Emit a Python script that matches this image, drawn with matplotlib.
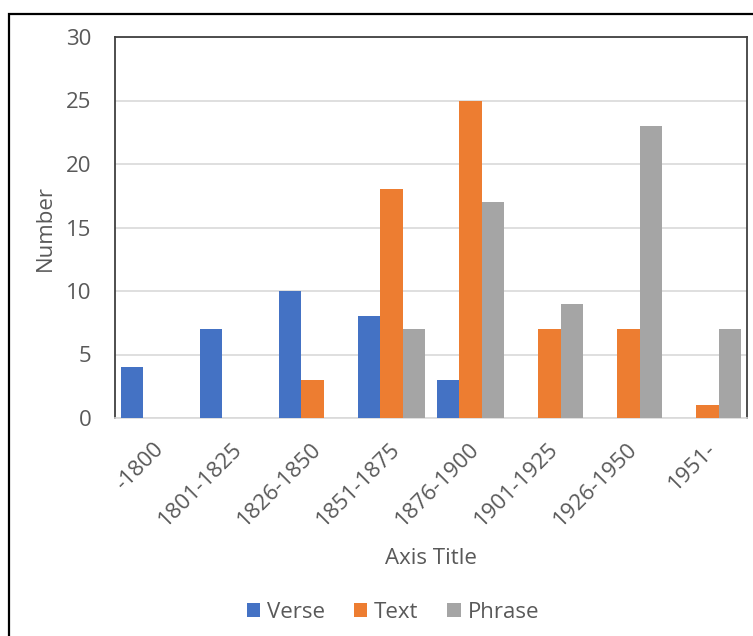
import matplotlib.pyplot as plt
import matplotlib.transforms as mtransforms
import numpy as np
from matplotlib.patches import Rectangle

plt.rcParams["font.family"] = ["Open Sans", "DejaVu Sans"]

periods = ["-1800", "1801-1825", "1826-1850", "1851-1875",
           "1876-1900", "1901-1925", "1926-1950", "1951-"]
verse = [4, 7, 10, 8, 3, 0, 0, 0]
text = [0, 0, 3, 18, 25, 7, 7, 1]
phrase = [0, 0, 0, 7, 17, 9, 23, 7]

series = [("Verse", verse, "#4472C4"),
          ("Text", text, "#ED7D31"),
          ("Phrase", phrase, "#A5A5A5")]

grey_text = "#595959"
fs = 16

fig = plt.figure(figsize=(7.53, 6.36), dpi=100)
# outer chart frame (right/bottom edges fall off the canvas)
fig.patches.append(Rectangle((9 / 753, -0.1), 1.1, 1 - 14 / 636 + 0.1,
                             transform=fig.transFigure, fill=False,
                             edgecolor="black", linewidth=1.6))

ax = fig.add_axes([115 / 753, 1 - 418 / 636, 632 / 753, 381 / 636])

x = np.arange(len(periods))
width = 1 / 3.5
for i, (name, vals, color) in enumerate(series):
    ax.bar(x + (i - 1) * width, vals, width, color=color, label=name, zorder=3)

ax.set_xlim(-0.5, len(periods) - 0.5)
ax.set_ylim(0, 30)
ax.set_yticks(range(0, 31, 5))
ax.yaxis.grid(True, color="#D9D9D9", linewidth=1.2, zorder=0)
ax.set_axisbelow(True)

for side in ["left", "top", "right"]:
    ax.spines[side].set_color("#404040")
    ax.spines[side].set_linewidth(1.3)
ax.spines["bottom"].set_color("#D9D9D9")
ax.spines["bottom"].set_linewidth(1.2)

ax.set_xticks(x)
ax.set_xticklabels(periods, rotation=45, ha="right", rotation_mode="anchor")
ax.tick_params(axis="both", length=0, labelsize=fs, labelcolor=grey_text)
ax.tick_params(axis="y", pad=17)
ax.tick_params(axis="x", pad=15)
shift = mtransforms.ScaledTranslation(-0.02, 0, fig.dpi_scale_trans)
for lbl in ax.get_xticklabels():
    lbl.set_transform(lbl.get_transform() + shift)

fig.text(45 / 753, 1 - 228 / 636, "Number", rotation=90, ha="center",
         va="center", fontsize=fs, color=grey_text)
fig.text(431 / 753, 1 - 558 / 636, "Axis Title", ha="center", va="center",
         fontsize=fs, color=grey_text)

leg = fig.legend(loc="center", bbox_to_anchor=(393 / 753, 1 - 612 / 636),
                 ncol=3, frameon=False, fontsize=fs, handlelength=0.6,
                 handleheight=0.6, handletextpad=0.3, columnspacing=1.3)
for t in leg.get_texts():
    t.set_color(grey_text)

fig.savefig("out.png", dpi=100)
